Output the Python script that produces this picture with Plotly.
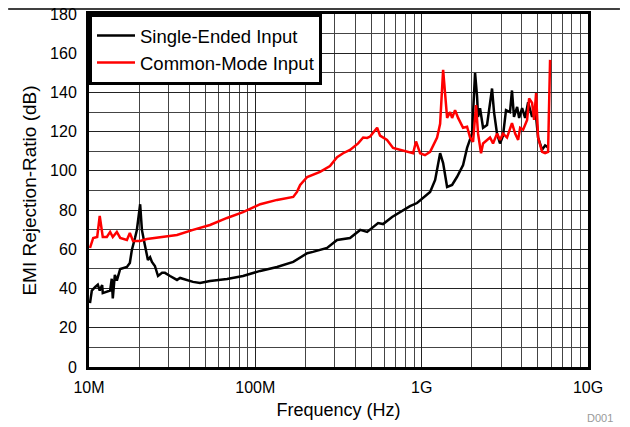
import plotly.graph_objects as go

# Single-Ended Input: frequency (Hz) and rejection ratio (dB)
se_freq = [10.14e6, 10.4e6, 10.9e6, 11.3e6, 11.6e6, 12.0e6, 12.1e6, 12.8e6, 13.4e6, 13.7e6,
           13.9e6, 14.3e6, 14.7e6, 15.4e6, 16.0e6, 16.9e6, 17.6e6, 18.1e6, 18.9e6, 19.4e6,
           20.3e6, 20.8e6, 21.7e6, 22.6e6, 23.3e6, 23.9e6, 24.9e6, 26.0e6, 27.5e6, 28.6e6,
           30.7e6, 33.8e6, 35.3e6, 38.8e6, 42.2e6, 46.5e6, 53.4e6, 67.6e6, 84.3e6, 107e6,
           135e6, 169e6, 186e6, 205e6, 222e6, 245e6, 270e6, 310e6, 371e6, 427e6,
           470e6, 547e6, 586e6, 664e6, 741e6, 851e6, 938e6, 1.019e9, 1.124e9, 1.205e9,
           1.291e9, 1.346e9, 1.422e9, 1.524e9, 1.633e9, 1.774e9, 1.875e9, 2.009e9, 2.094e9, 2.153e9,
           2.183e9, 2.244e9, 2.339e9, 2.472e9, 2.541e9, 2.649e9, 2.723e9, 2.838e9, 2.958e9, 3.083e9,
           3.214e9, 3.396e9, 3.491e9, 3.589e9, 3.750e9, 3.855e9, 4.018e9, 4.188e9, 4.365e9, 4.613e9,
           4.808e9, 5.012e9, 5.297e9, 5.521e9, 5.754e9]
se_db = [32.6, 39, 40.8, 42, 39, 41.8, 37.7, 38.3, 39, 45,
         35, 47, 44, 50, 50.5, 51, 53, 59.7, 65.8, 69.9,
         83, 69.9, 62, 54.6, 56, 53.6, 51.5, 46.4, 48, 48,
         46.4, 44.4, 45.4, 44.4, 43.4, 42.8, 43.9, 44.9, 46.4, 49,
         51, 53.6, 55.6, 58, 58.7, 59.7, 60.7, 64.8, 65.8, 69.9,
         68.9, 73.4, 72.9, 76.5, 79, 82, 83.6, 86.2, 89.3, 95.4,
         109, 104, 91.8, 92.8, 97, 103, 111.7, 119, 150, 138,
         127.5, 132, 122, 123.4, 131, 142, 130, 119, 114, 118,
         131, 130, 141, 127.5, 132.6, 127, 132, 127, 135, 127.5,
         132.6, 117, 110.7, 113, 112]

# Common-Mode Input
cm_freq = [10.14e6, 10.6e6, 11.2e6, 11.6e6, 12.1e6, 12.8e6, 13.4e6, 13.9e6, 14.7e6, 15.4e6,
           16.9e6, 17.6e6, 18.4e6, 20.3e6, 22.3e6, 26.7e6, 33.8e6, 42.2e6, 53.4e6, 67.6e6,
           84.3e6, 107e6, 135e6, 169e6, 178e6, 186e6, 205e6, 245e6, 281e6, 310e6,
           337e6, 371e6, 387e6, 415e6, 445e6, 470e6, 490e6, 540e6, 562e6, 619e6,
           673e6, 741e6, 817e6, 888e6, 925e6, 978e6, 1.047e9, 1.124e9, 1.238e9, 1.291e9,
           1.346e9, 1.384e9, 1.422e9, 1.483e9, 1.524e9, 1.588e9, 1.656e9, 1.774e9, 1.875e9, 1.954e9,
           2.037e9, 2.123e9, 2.183e9, 2.275e9, 2.339e9, 2.576e9, 2.686e9, 2.838e9, 2.958e9, 3.083e9,
           3.259e9, 3.491e9, 3.647e9, 3.802e9, 3.908e9, 4.074e9, 4.305e9, 4.426e9, 4.613e9, 4.742e9,
           4.875e9, 5.012e9, 5.297e9, 5.521e9, 5.754e9, 5.916e9]
cm_db = [60.7, 65.8, 66.3, 77, 66.3, 66.3, 68.9, 66.3, 68.9, 65.8,
         64.8, 68.3, 64.3, 64.3, 65.3, 66.3, 67.3, 69.9, 72.4, 76,
         79, 83, 85.2, 86.7, 89.3, 92.8, 96.9, 99.5, 102.5, 107,
         109, 110.7, 112, 114, 117, 116.8, 117.5, 122, 118, 115.8,
         111.7, 110.7, 110, 109, 115, 109, 108, 109.7, 117, 124,
         151.5, 139.7, 127, 130, 127, 131, 127, 122, 122.5, 117,
         114.8, 133.6, 119, 109, 114, 117, 114, 119, 115.8, 119,
         117, 124.4, 119, 115.8, 122, 121, 126, 137, 134.6, 126,
         139.7, 117, 109.7, 109, 109.7, 156.6]

x_tickvals = [1e7, 1e8, 1e9, 1e10]
x_ticktext = ['10M', '100M', '1G', '10G']
x_minor = [k * 10 ** d for d in range(7, 10) for k in range(2, 10)]

FONT = 'Liberation Sans, Arial, sans-serif'

fig = go.Figure()

fig.add_trace(go.Scatter(
    x=se_freq, y=se_db, mode='lines', name='Single-Ended Input',
    line=dict(color='black', width=2.5)
))
fig.add_trace(go.Scatter(
    x=cm_freq, y=cm_db, mode='lines', name='Common-Mode Input',
    line=dict(color='#ff0000', width=2.5)
))

fig.update_xaxes(
    type='log', range=[7, 10],
    tickvals=x_tickvals, ticktext=x_ticktext,
    showgrid=True, gridcolor='#222', gridwidth=1,
    minor=dict(tickvals=x_minor, showgrid=True, gridcolor='#444', gridwidth=1, ticklen=0),
    showline=True, linecolor='black', linewidth=3, mirror=True,
    ticks='', ticklabelstandoff=4, automargin=False, ticklabeloverflow='allow',
    tickfont=dict(size=16, color='black', family=FONT),
    title=dict(text='Frequency (Hz)', font=dict(size=18, color='black', family=FONT), standoff=9),
    zeroline=False
)
fig.update_yaxes(
    range=[0, 180], tickvals=list(range(0, 181, 20)),
    showgrid=True, gridcolor='#222', gridwidth=1,
    minor=dict(tickvals=list(range(10, 180, 20)), showgrid=True, gridcolor='#444', gridwidth=1, ticklen=0),
    showline=True, linecolor='black', linewidth=3, mirror=True,
    ticks='', ticklabelstandoff=6, automargin=False, ticklabeloverflow='allow',
    tickfont=dict(size=16, color='black', family=FONT),
    title=dict(text='EMI Rejection-Ratio (dB)', font=dict(size=19, color='black', family=FONT), standoff=9),
    zeroline=False
)

# the page adds an 8px body margin, so the figure is sized to fit the window
fig.update_layout(
    width=622, height=419,
    margin=dict(l=81, r=42, t=6, b=60),
    paper_bgcolor='white', plot_bgcolor='white',
    font=dict(family=FONT, color='black'),
    legend=dict(
        x=0, y=1, xanchor='left', yanchor='top',
        bgcolor='white', bordercolor='black', borderwidth=3,
        font=dict(size=18.5, color='black', family=FONT),
        itemwidth=38, tracegroupgap=0
    ),
    shapes=[dict(type='line', xref='paper', yref='paper',
                 x0=-0.162, x1=1.064, y0=1.0142, y1=1.0142,
                 line=dict(color='black', width=1.5))],
    annotations=[dict(text='D001', xref='paper', yref='paper', x=1.024, y=-0.1445,
                      showarrow=False, xanchor='center', yanchor='middle',
                      font=dict(size=11, color='#999999', family=FONT))]
)

fig.write_html("out.html")
